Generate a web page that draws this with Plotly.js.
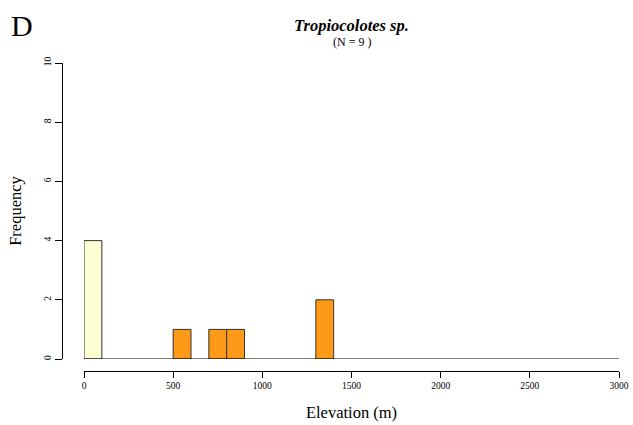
<!DOCTYPE html>
<html>
<head>
<meta charset="utf-8">
<script src="https://cdn.plot.ly/plotly-3.0.1.min.js"></script>
<style>html,body{margin:0;padding:0;background:#fff;}#chart{width:633px;height:425px;}</style>
</head>
<body>
<div id="chart"></div>
<script>
// Data
var binCenters = [50, 550, 750, 850, 1350];
var counts = [4, 1, 1, 1, 2];
var binGroup = ["low", "high", "high", "high", "high"];
var xTicks = [0, 500, 1000, 1500, 2000, 2500, 3000];
var yTicks = [0, 2, 4, 6, 8, 10];
var species = "Tropiocolotes sp.";
var nSamples = 9;

var groupColor = {low: "#FFFFD4", high: "#FE9A17"};
var font = "'Liberation Serif', 'Times New Roman', serif";

var trace = {
  type: "bar",
  x: binCenters,
  y: counts,
  width: 100,
  marker: {
    color: binGroup.map(function(g){ return groupColor[g]; }),
    line: {color: "#333333", width: 1}
  },
  hoverinfo: "x+y"
};

var layout = {
  width: 633, height: 425,
  margin: {l: 62, r: 14, t: 63, b: 54, pad: 0},
  paper_bgcolor: "#fff", plot_bgcolor: "#fff",
  showlegend: false,
  font: {family: font, color: "#000"},
  xaxis: {
    range: [0, 3000], domain: [22/557, 1],
    anchor: "free", position: 0,
    tickvals: xTicks, ticktext: xTicks.map(String),
    ticks: "outside", ticklen: 6, tickwidth: 1, tickcolor: "#000",
    showline: true, linecolor: "#000", linewidth: 1,
    showgrid: false, zeroline: false,
    tickfont: {size: 9.5, family: font},
    title: {text: "Elevation (m)", font: {size: 16.5, family: font}, standoff: 16}
  },
  yaxis: {
    range: [0, 10], domain: [12/308, 1],
    anchor: "free", position: 0,
    tickvals: yTicks, ticktext: yTicks.map(String),
    tickangle: -90,
    ticks: "outside", ticklen: 7, tickwidth: 1, tickcolor: "#000",
    showline: true, linecolor: "#000", linewidth: 1,
    showgrid: false, zeroline: false,
    tickfont: {size: 9.5, family: font},
    title: {text: "Frequency", font: {size: 16.5, family: font}, standoff: 16}
  },
  shapes: [{
    type: "line", xref: "x", yref: "y",
    x0: 0, x1: 3000, y0: 0, y1: 0,
    line: {color: "#000", width: 1}
  }],
  annotations: [
    {text: "<b><i>" + species + "</i></b>", xref: "paper", yref: "paper",
     x: (351.5-62)/557, y: 1, yshift: 63-25, showarrow: false,
     xanchor: "center", yanchor: "middle", font: {size: 16.5, family: font}},
    {text: "(N = " + nSamples + " )", xref: "paper", yref: "paper",
     x: (351.5-62)/557, y: 1, yshift: 63-41.5, showarrow: false,
     xanchor: "center", yanchor: "middle", font: {size: 12, family: font}},
    {text: "D", xref: "paper", yref: "paper",
     x: 0, y: 1, xshift: -62+9, yshift: 63-25, showarrow: false,
     xanchor: "left", yanchor: "middle", font: {size: 30, family: font}}
  ]
};

Plotly.newPlot("chart", [trace], layout, {displayModeBar: false, staticPlot: true});
</script>
</body>
</html>
